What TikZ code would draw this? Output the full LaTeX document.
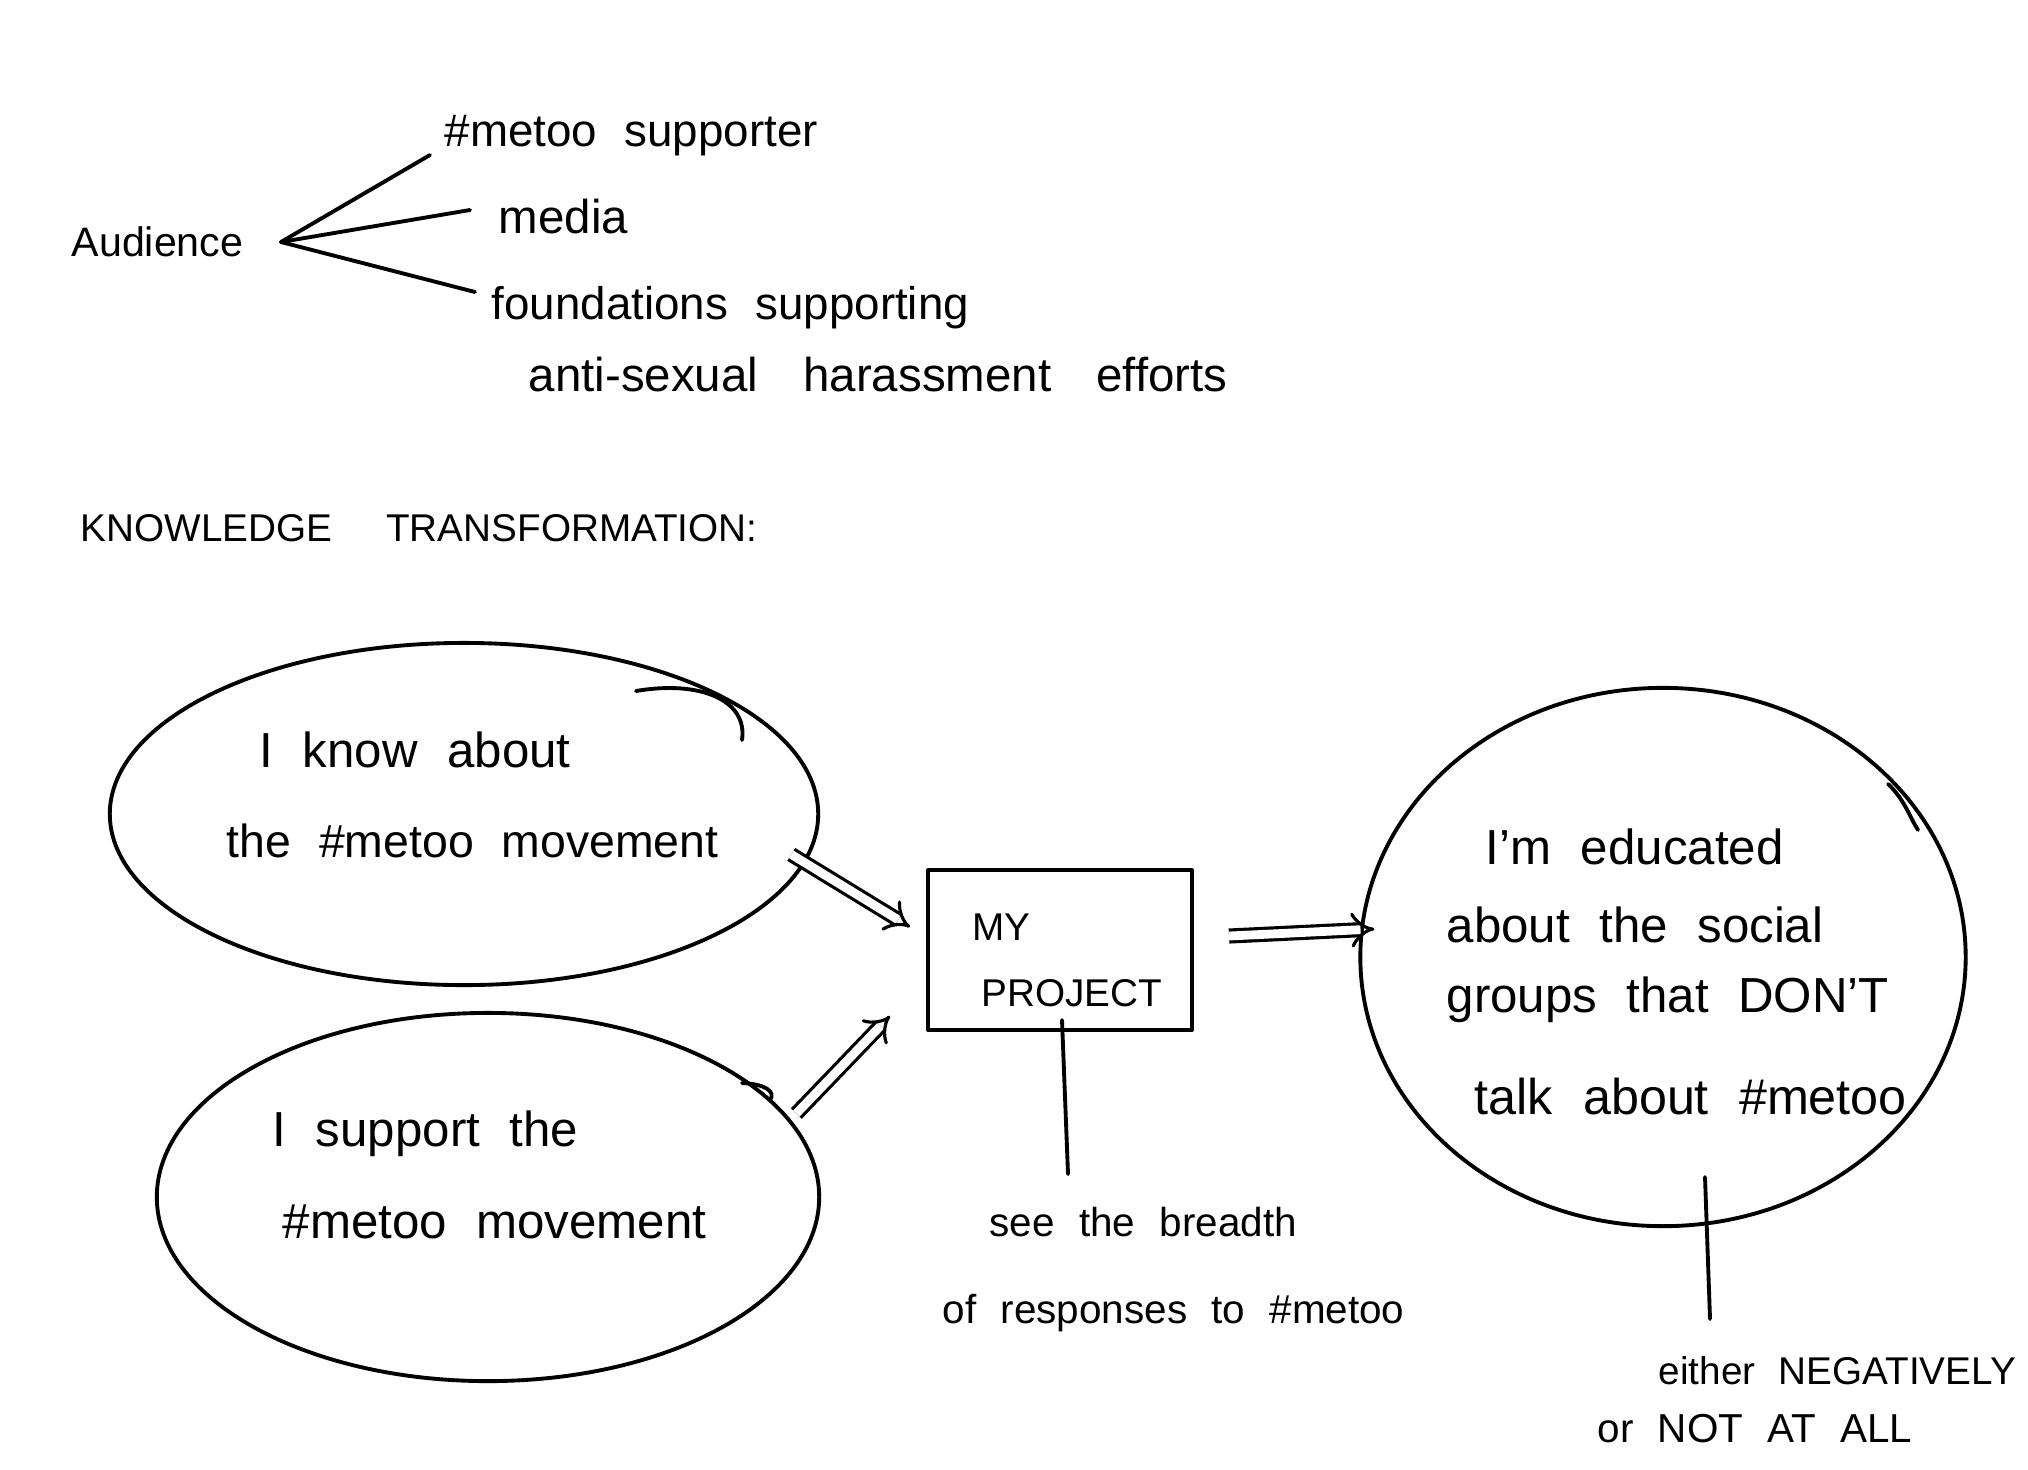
\documentclass[tikz,border=0pt]{standalone}
\usepackage{fontspec}
\setmainfont{Liberation Sans}
\usetikzlibrary{shapes.geometric,arrows.meta,calc}
\newcommand\handf[2]{\fontsize{#1}{#1}\selectfont\spaceskip=#2em\relax}
\begin{document}
\begin{tikzpicture}[x=0.01cm,y=-0.01cm,
  pen/.style={line width=1.1pt, line cap=round, line join=round},
  dbl/.style={line width=0.9pt, double, double distance=2.5pt, -{Implies}},
  hand/.style={inner sep=0pt, anchor=west, font={\handf{#1}{0.6}}},
  hand/.default=13,
  bubble/.style={draw, pen, ellipse, inner sep=0pt}]
\useasboundingbox (0,0) rectangle (2028,1469);

% Audience
\node[hand=11.7] (aud) at (71,242) {Audience};
\node[hand=13] (i1) at (444,136) {\#metoo supporter};
\node[hand=13.5] (i2) at (498,217) {media};
\node[hand=13] (i3) at (491,308) {foundations supporting};
\node[inner sep=0pt, anchor=west, font={\handf{13.5}{0.95}}] (i4) at (528,375) {anti-sexual harassment efforts};
\coordinate (hub) at (281,242);
\draw[pen] (hub) -- ($(i1.west)+(-14,19)$);
\draw[pen] (hub) -- ($(i2.west)+(-28,-7)$);
\draw[pen] (hub) -- ($(i3.west)+(-16,-16)$);

\node[inner sep=0pt, anchor=west, font={\handf{11}{1.4}}] (kt) at (80,528) {KNOWLEDGE TRANSFORMATION:};

% Bubbles
\node[bubble, minimum width=7.08cm, minimum height=3.42cm] (b1) at (464,814) {};
\draw[pen] (636,691) .. controls (700,680) and (748,700) .. (742,740);
\node[hand=14] (t1) at (259,750) {I know about};
\node[hand=13.2] (t2) at (226,841) {the \#metoo movement};

\node[bubble, minimum width=6.62cm, minimum height=3.68cm] (b2) at (488,1197) {};
\draw[pen] (742,1083) .. controls (766,1084) and (776,1092) .. (770,1100);
\node[hand=14] (t3) at (272,1134) {I support the};
\node[hand=14] (t4) at (282,1222) {\#metoo movement};

% Project box
\node[draw, pen, minimum width=2.64cm, minimum height=1.6cm, inner sep=0pt] (proj) at (1060,950) {};
\node[hand=11] (my) at (972,927) {MY};
\node[hand=11] (pr) at (981,993) {PROJECT};

\draw[dbl] ($(b1.-7)+(-18,-2)$) -- ($(proj.west)+(-16,-23)$);
\draw[dbl] ($(b2.15)+(8,-3)$) -- ($(proj.south west)+(-36,-16)$);

% Right circle
\node[bubble, minimum width=6.05cm, minimum height=5.38cm] (c) at (1663,957) {};
\draw[pen] (1888,784) .. controls (1905,800) and (1910,818) .. (1918,830);
\node[hand=14] (c1) at (1485,847) {I'm educated};
\node[hand=14] (c2) at (1446,925) {about the social};
\node[hand=14] (c3) at (1446,1000) {groups that DON'T};
\node[hand=14.3] (c4) at (1474,1096) {talk about \#metoo};

\draw[dbl] ($(proj.east)+(35,-14)$) -- ($(c.west)+(16,-28)$);

% Notes
\coordinate (l1) at (1068,1174);
\draw[pen] ($(proj.south)+(2,-12)$) -- (l1);
\node[hand=11.5] (s1) at (989,1222) {see the breadth};
\node[hand=11.5] (s2) at (942,1313) {of responses to \#metoo};

\coordinate (l2a) at (1705,1177);
\coordinate (l2b) at (1710,1319);
\draw[pen] (l2a) -- (l2b);
\node[hand=11] (e1) at (1658,1371) {either NEGATIVELY};
\node[hand=11.5] (e2) at (1597,1429) {or NOT AT ALL};
\end{tikzpicture}
\end{document}
